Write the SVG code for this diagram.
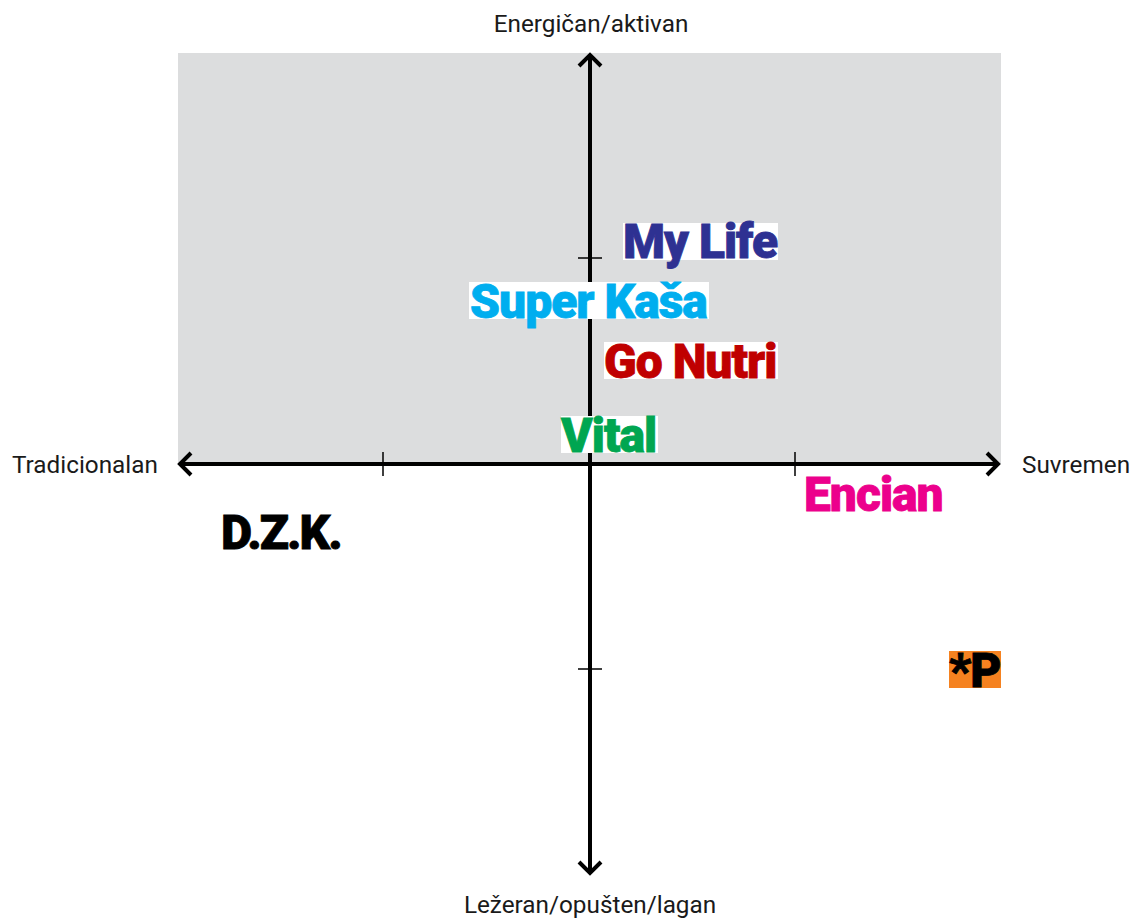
<svg xmlns="http://www.w3.org/2000/svg" width="1142" height="918" viewBox="0 0 1142 918">
<style>
.ax{stroke:#000;stroke-width:4;fill:none}
.tk{stroke:#000;stroke-width:1.5;fill:none}
.lb{font-family:Roboto,sans-serif;font-size:24.3px;fill:#1a1a1a}
.br{font-family:Roboto,sans-serif;font-weight:900;font-size:48px;letter-spacing:-1px;stroke-width:.8}
</style>
<rect id="bg" x="178" y="53" width="823" height="411" fill="#dcddde"/>
<g id="connectors">
<path class="ax" d="M590 55V873M579 66L590 55L601 66M579 862L590 873L601 862"/>
<path class="ax" d="M180 464H998M191 453L180 464L191 475M987 453L998 464L987 475"/>
<path class="tk" d="M383 452V476M795 452V476M578 258H602M578 669H602"/>
</g>
<g id="top"><text class="lb" x="591" y="32" text-anchor="middle">Energičan/aktivan</text></g>
<g id="bottom"><text class="lb" x="590" y="913" text-anchor="middle">Ležeran/opušten/lagan</text></g>
<g id="left"><text class="lb" x="12" y="473">Tradicionalan</text></g>
<g id="right"><text class="lb" x="1022" y="473">Suvremen</text></g>
<g id="mylife"><rect x="623" y="223" width="155" height="37" fill="#fff"/><text class="br" x="623" y="258" fill="#2e3192" stroke="#2e3192">My Life</text></g>
<g id="superkasa"><rect x="469" y="282" width="240" height="37" fill="#fff"/><text class="br" x="470" y="318" fill="#00aeef" stroke="#00aeef">Super Kaša</text></g>
<g id="gonutri"><rect x="604" y="342" width="174" height="37" fill="#fff"/><text class="br" x="604" y="378" fill="#c00000" stroke="#c00000">Go Nutri</text></g>
<g id="vital"><rect x="561" y="416" width="97" height="37" fill="#fff"/><text class="br" x="561" y="452" fill="#00a651" stroke="#00a651">Vital</text></g>
<g id="encian"><text class="br" x="804" y="511" fill="#ec008c" stroke="#ec008c">Encian</text></g>
<g id="dzk"><text class="br" x="221" y="549" fill="#000" stroke="#000" style="letter-spacing:-2px">D.Z.K.</text></g>
<g id="p"><rect x="949" y="651" width="52" height="37" fill="#f58220"/><text class="br" x="949" y="687" fill="#000" stroke="#000">*P</text></g>
</svg>
